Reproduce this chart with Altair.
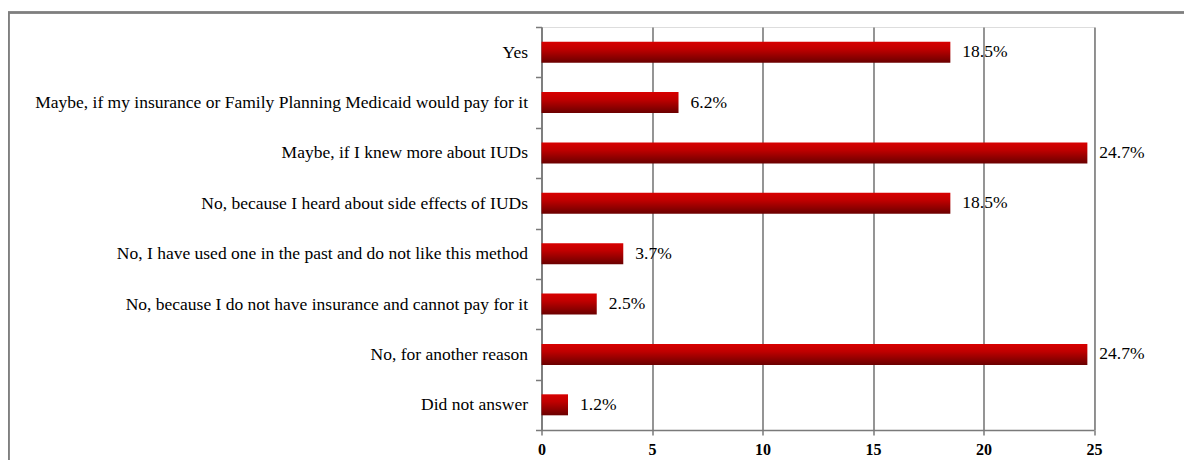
import altair as alt
import pandas as pd

categories = [
    "Yes",
    "Maybe, if my insurance or Family Planning Medicaid would pay for it",
    "Maybe, if I knew more about IUDs",
    "No, because I heard about side effects of IUDs",
    "No, I have used one in the past and do not like this method",
    "No, because I do not have insurance and cannot pay for it",
    "No, for another reason",
    "Did not answer",
]
values = [18.5, 6.2, 24.7, 18.5, 3.7, 2.5, 24.7, 1.2]
labels = ["18.5%", "6.2%", "24.7%", "18.5%", "3.7%", "2.5%", "24.7%", "1.2%"]
x_ticks = [0, 5, 10, 15, 20, 25]

df = pd.DataFrame({"cat": categories, "val": values, "lab": labels})

FONT = "Liberation Serif"
W, H = 552.5, 403

x_enc = alt.X(
    "val:Q",
    scale=alt.Scale(domain=[0, 25], nice=False, zero=True),
    axis=alt.Axis(
        values=x_ticks, title=None, grid=True, gridColor="#7a7a7a", gridWidth=1.6,
        domainColor="#7a7a7a", domainWidth=1.6, tickColor="#7a7a7a", tickSize=5,
        tickWidth=1.5, labelFont=FONT, labelFontSize=16, labelFontWeight="bold",
        labelColor="#000000", labelPadding=6, labelFlush=False,
    ),
)
y_enc = alt.Y(
    "cat:N",
    sort=categories,
    scale=alt.Scale(paddingInner=0, paddingOuter=0),
    axis=alt.Axis(
        title=None, tickBand="extent", domainColor="#7a7a7a", domainWidth=1.6,
        tickColor="#7a7a7a", tickSize=6, tickWidth=1.5, labelFont=FONT,
        labelFontSize=17.5, labelColor="#000000", labelPadding=8, labelLimit=0,
    ),
)

frame = alt.Chart(df).mark_rect(fill="transparent", stroke="#7f7f7f", strokeWidth=1.5).encode(
    x=alt.value(-533), x2=alt.value(800), y=alt.value(-14.5), y2=alt.value(600)
)

bars = alt.Chart(df).mark_bar(
    size=21,
    color=alt.Gradient(
        gradient="linear",
        stops=[
            alt.GradientStop(color="#d80000", offset=0),
            alt.GradientStop(color="#c00000", offset=0.35),
            alt.GradientStop(color="#6a0000", offset=1),
        ],
        x1=0, x2=0, y1=0, y2=1,
    ),
).encode(x=x_enc, y=y_enc)

text = alt.Chart(df).mark_text(
    align="left", baseline="middle", dx=12, font=FONT, fontSize=17.5, color="#000000"
).encode(x="val:Q", y=alt.Y("cat:N", sort=categories), text="lab:N")

chart = (
    alt.layer(frame, bars, text)
    .properties(
        width=W, height=H,
        autosize=alt.AutoSizeParams(type="none"),
        padding={"left": 533.5, "top": 19, "right": 90, "bottom": 30},
    )
    .configure_view(stroke=None)
    .configure(background="white")
)

chart.save("out.html", embed_options={"renderer": "svg", "actions": False})
